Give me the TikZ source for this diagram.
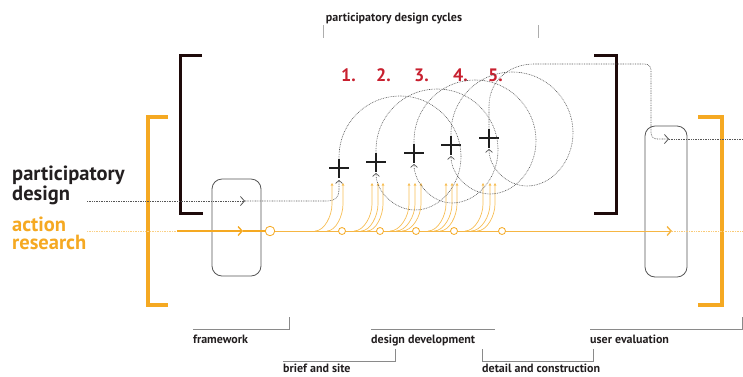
\documentclass[tikz,border=0pt]{standalone}
\usepackage{fontspec}
\setmainfont{PT Sans}
\usetikzlibrary{arrows.meta}
\definecolor{ora}{HTML}{F5A922}
\definecolor{orl}{HTML}{F7BE55}
\definecolor{brk}{HTML}{1E0A0A}
\definecolor{nred}{HTML}{C8202F}
\definecolor{dgray}{HTML}{555555}
\definecolor{txt}{HTML}{231F20}
\definecolor{lgray}{HTML}{8A8A8A}
\begin{document}
\begin{tikzpicture}[x=1pt,y=-1pt,
  obracket/.style={draw=ora,line width=4.5pt},
  kbracket/.style={draw=brk,line width=3pt},
  roundbox/.style={draw=dgray,line width=0.8pt,rounded corners=10pt,minimum width=#1,inner sep=0pt},
  plusmark/.style={minimum width=20pt,minimum height=19pt,inner sep=0pt,
    path picture={\draw[line width=2.8pt,black!88]
      (path picture bounding box.north) -- (path picture bounding box.south)
      (path picture bounding box.west) -- (path picture bounding box.east);}},
  cycleline/.style={draw=dgray,line width=0.6pt,dash pattern=on 0.8pt off 0.9pt},
  gtip/.style={-{Straight Barb[length=3pt,width=7pt,line width=0.7pt]}},
  htip/.style={-{Straight Barb[length=4pt,width=9pt,line width=0.8pt]}},
  otip/.style={-{Straight Barb[length=4pt,width=9pt,line width=1.4pt]}},
  arline/.style={draw=ora,line width=1.3pt},
  arthin/.style={draw=ora!85,line width=1pt},
  fanline/.style={draw=orl,line width=0.7pt,-{Triangle[length=2.5pt,width=2.6pt]}},
  ring/.style={circle,draw=ora,fill=white,line width=0.8pt,inner sep=0pt,minimum size=#1},
  lblline/.style={draw=lgray,line width=0.8pt},
  lbl/.style={font=\bfseries\fontsize{12}{14}\selectfont,text=txt,anchor=base west,inner sep=0pt},
  bigk/.style={font=\bfseries\fontsize{20.5}{18}\selectfont,text=txt,anchor=base west,inner sep=0pt,align=left},
  bigo/.style={font=\bfseries\fontsize{20.5}{18}\selectfont,text=ora,anchor=base west,inner sep=0pt,align=left},
  num/.style={font=\bfseries\fontsize{18}{18}\selectfont,text=nred,anchor=base west,inner sep=0pt}
]
\useasboundingbox (0,0) rectangle (743,376);

% title
\node[lbl,anchor=base] (title) at (394,21) {participatory design cycles};
\draw[draw=lgray!70,line width=0.7pt] (323,25) -- (323,38) (538,25) -- (538,38);

% brackets
\draw[kbracket] (202,55) -- (180,55) -- (180,213) -- (203,213);
\draw[kbracket] (594,55) -- (616,55) -- (616,213) -- (594,213);
\draw[obracket] (168,117) -- (148,117) -- (148,305) -- (168,305);
\draw[obracket] (698,117) -- (722,117) -- (722,305) -- (698,305);

% side labels (base anchor = last line)
\node[bigk] (pd) at (12,200) {participatory\\design};
\node[bigo] (ar) at (12,249) {action\\research};

% boxes
\node[roundbox=49pt,minimum height=97pt] (fw) at (236.5,227.5) {};
\node[roundbox=42pt,minimum height=151pt] (ue) at (666,201.5) {};

% plus marks and numbers
\node[plusmark] (p1) at (339,168) {};
\node[plusmark] (p2) at (376,162) {};
\node[plusmark] (p3) at (414,153) {};
\node[plusmark] (p4) at (451,145) {};
\node[plusmark] (p5) at (489,138) {};
\coordinate (a1) at (339,180);
\coordinate (a2) at (376,173);
\coordinate (a3) at (414,164);
\coordinate (a4) at (451,156);
\coordinate (a5) at (489,149);
\node[num] (n1) at (341,81) {1.};
\node[num] (n2) at (376,81) {2.};
\node[num] (n3) at (414,81) {3.};
\node[num] (n4) at (453,81) {4.};
\node[num] (n5) at (488,81) {5.};

% action research line
\coordinate (arin) at (87,231);
\coordinate (arsolid) at (177,231);
\coordinate (arout) at (743,231);
\draw[draw=ora!55,line width=0.8pt,dash pattern=on 0.8pt off 0.9pt] (arin) -- (arsolid);
\draw[arline,otip] (arsolid) -- (243,231);
\draw[arline] (243,231) -- (272,231);
\draw[arthin] (272,231) -- (600,231);
\draw[arthin,otip] (600,231) -- (672,231);
\draw[draw=ora!60,line width=0.8pt,dash pattern=on 0.8pt off 0.9pt] (672,231) -- (arout);

% orange fans
\foreach \xs/\xv in {315/332,327/343,354/372,361/378,367/383,390/409,396/415,402/421,428/446,434/452,440/457,465/483,471/490,477/495}{
  \draw[fanline] (\xs,231) .. controls ({\xs+0.55*(\xv-\xs)},231) and (\xv,216) .. (\xv,204) -- (\xv,183);
}
\node[ring=9.5pt] (c0) at (270,231) {};
\node[ring=7pt] (c1) at (342,231) {};
\node[ring=7pt] (c2) at (380,231) {};
\node[ring=7pt] (c3) at (416,231) {};
\node[ring=7pt] (c4) at (454,231) {};
\node[ring=7pt] (c5) at (502,231) {};

% participatory design line
\coordinate (pdin) at (87,201);
\draw[cycleline,htip] (pdin) -- (245,201);
\draw[cycleline,gtip] (245,201) -- (328,201) .. controls (335,201) and (339,197) .. (339,190) -- (a1);

% cycles
\draw[cycleline,gtip] (p1.north) -- (339,157) .. controls (339,123.3) and (366.3,96) .. (400,96)
  .. controls (433.7,96) and (461,123.3) .. (461,157) .. controls (461,185) and (440,210) .. (415,210)
  .. controls (395,210) and (376,192) .. (a2);
\draw[cycleline,gtip] (p2.north) -- (376,150) .. controls (376,116.3) and (403.3,89) .. (437,89)
  .. controls (470.7,89) and (498,116.3) .. (498,150) .. controls (498,178) and (477,203) .. (452,203)
  .. controls (432,203) and (414,183) .. (a3);
\draw[cycleline,gtip] (p3.north) -- (414,141) .. controls (414,107.3) and (441.3,80) .. (475,80)
  .. controls (508.7,80) and (536,107.3) .. (536,141) .. controls (536,169) and (515,194) .. (490,194)
  .. controls (470,194) and (451,175) .. (a4);
\draw[cycleline,gtip] (p4.north) -- (451,133) .. controls (451,99.3) and (478.3,72) .. (512,72)
  .. controls (545.7,72) and (573,99.3) .. (573,133) .. controls (573,161) and (552,186) .. (527,186)
  .. controls (507,186) and (489,168) .. (a5);
% exit to user evaluation
\coordinate (pdout) at (743,139);
\draw[cycleline,htip,rounded corners=6pt] (p5.north) -- (489,112) .. controls (489,82) and (508,64) .. (540,64)
  -- (651,64) -- (651,139) -- (669,139);
\draw[cycleline] (669,139) -- (pdout);

% bottom labels
\node[lbl] (lfw) at (193,343) {framework};
\node[lbl] (lbs) at (283,372) {brief and site};
\node[lbl] (ldd) at (371,343) {design development};
\node[lbl] (ldc) at (482,372) {detail and construction};
\node[lbl] (lue) at (590,343) {user evaluation};
\draw[lblline] (193,329) -- (289,329) -- (289,317);
\draw[lblline] (371,329) -- (495,329);
\draw[lblline] (590,329) -- (742,329) -- (742,317);
\draw[lblline] (283,361) -- (395,361) -- (395,349);
\draw[lblline] (482,349) -- (482,361) -- (593,361) -- (593,349);
\end{tikzpicture}
\end{document}
